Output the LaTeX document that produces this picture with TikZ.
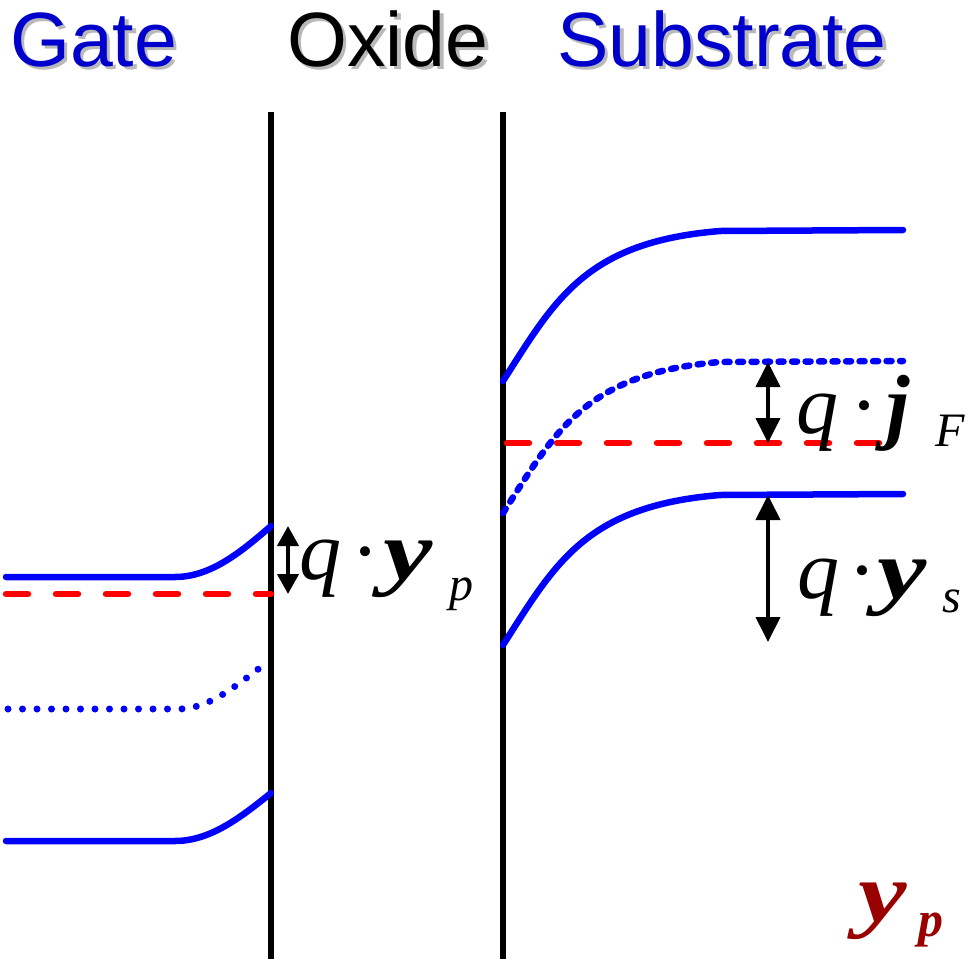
\documentclass[tikz,border=0pt]{standalone}
\usepackage{fontspec}
\setmainfont{Liberation Serif}
\newfontfamily\arialf{Liberation Sans}
\usetikzlibrary{arrows.meta}
\definecolor{bandblue}{RGB}{0,0,255}
\definecolor{headblue}{RGB}{0,0,204}
\definecolor{darkred}{RGB}{153,0,0}
\definecolor{shadowgray}{RGB}{185,185,185}
\tikzset{
  wall/.style={line width=6.5pt, black},
  band/.style={line width=6.5pt, bandblue, line cap=round},
  gatedots/.style={line width=7pt, bandblue, line cap=round, dash pattern=on 0pt off 14.5pt},
  subdots/.style={line width=6.5pt, bandblue, line cap=round, dash pattern=on 5pt off 8.5pt},
  fermi/.style={line width=6.5pt, red, line cap=round, dash pattern=on 22pt off 28pt},
  dimarrow/.style={line width=4pt, {Triangle[width=24pt,length=25pt]}-{Triangle[width=24pt,length=25pt]}},
  smallarrow/.style={line width=4pt, {Triangle[width=21pt,length=20pt]}-{Triangle[width=21pt,length=20pt]}},
  head/.style={anchor=base west, inner sep=0pt, font=\arialf\fontsize{77}{80}\selectfont},
  big/.style={anchor=base west, inner sep=0pt, font=\fontsize{84}{90}\selectfont},
  small/.style={anchor=base west, inner sep=0pt, font=\fontsize{48}{52}\selectfont\itshape},
}
\newcommand{\widey}{\scalebox{1.32}[1]{\bfseries\itshape y}}
\begin{document}
\begin{tikzpicture}[x=1pt,y=-1pt]
\useasboundingbox (0,0) rectangle (970,959);
% headings with shadows
\node[head, text=shadowgray] (gs) at (13.5,69.5) {Gate};
\node[head, text=headblue] (gate) at (10,66) {Gate};
\node[head, text=shadowgray] (os) at (290.5,69.5) {Oxide};
\node[head, text=black] (oxide) at (287,66) {Oxide};
\node[head, text=shadowgray] (ss) at (560.5,69.5) {Substrate};
\node[head, text=headblue] (sub) at (557,66) {Substrate};
% walls
\coordinate (w1t) at (271,112); \coordinate (w1b) at (271,959);
\coordinate (w2t) at (503,112); \coordinate (w2b) at (503,959);
\draw[wall] (w1t) -- (w1b);
\draw[wall] (w2t) -- (w2b);
% gate bands
\coordinate (gc0) at (6,577); \coordinate (gc1) at (175,577); \coordinate (gc2) at (271,526);
\draw[band] (gc0) -- (gc1) .. controls (210,577) and (240,553) .. (gc2);
\coordinate (gf0) at (6,594); \coordinate (gf1) at (271,594);
\draw[fermi] (gf0) -- (gf1);
\coordinate (gi0) at (8,709); \coordinate (gi1) at (178,709); \coordinate (gi2) at (265,664);
\draw[gatedots] (gi0) -- (gi1) .. controls (210,709) and (238,684) .. (gi2);
\coordinate (gv0) at (6,841); \coordinate (gv1) at (175,841); \coordinate (gv2) at (271,793);
\draw[band] (gv0) -- (gv1) .. controls (210,841) and (240,818) .. (gv2);
% substrate bands
\coordinate (sc0) at (503,381); \coordinate (sc1) at (720,231); \coordinate (sc2) at (903,230);
\draw[band] (sc0) .. controls (555,300) and (585,242) .. (sc1) -- (sc2);
\coordinate (si0) at (503,513); \coordinate (si1) at (720,362); \coordinate (si2) at (903,361);
\draw[subdots] (si0) .. controls (555,432) and (585,373) .. (si1) -- (si2);
\coordinate (sv0) at (503,645); \coordinate (sv1) at (720,495); \coordinate (sv2) at (903,494);
\draw[band] (sv0) .. controls (555,564) and (585,506) .. (sv1) -- (sv2);
\coordinate (sf0) at (507,443); \coordinate (sf1) at (903,443);
\draw[fermi] (sf0) -- (sf1);
% arrows
\coordinate (ap1) at (288,526); \coordinate (ap2) at (288,594);
\draw[smallarrow] (ap1) -- (ap2);
\coordinate (af1) at (768,362); \coordinate (af2) at (768,443);
\draw[dimarrow] (af1) -- (af2);
\coordinate (as1) at (768,495); \coordinate (as2) at (768,642);
\draw[dimarrow] (as1) -- (as2);
% labels psi_p
\node[big] (pq) at (299,579) {\itshape q};
\node[big] (pd) at (351,579) {\textperiodcentered};
\node[big] (py) at (383,579) {\widey};
\node[small] (pp) at (449,600) {p};
% phi_F
\node[big] (fq) at (796,433) {\itshape q};
\node[big] (fd) at (850,433) {\textperiodcentered};
\node[big] (fj) at (886,433) {\bfseries\itshape j};
\node[small] (fF) at (935,446) {F};
% psi_s
\node[big] (sq) at (797,598) {\itshape q};
\node[big] (sd) at (848,598) {\textperiodcentered};
\node[big] (sy) at (877,598) {\widey};
\node[small] (ss2) at (942,612) {s};
% bottom label
\node[big, text=darkred] (by) at (858,921) {\scalebox{1.3}[1]{\bfseries\itshape y}};
\node[small, text=darkred, font=\fontsize{50}{54}\selectfont\bfseries\itshape] (bp) at (918,936) {p};
\end{tikzpicture}
\end{document}
